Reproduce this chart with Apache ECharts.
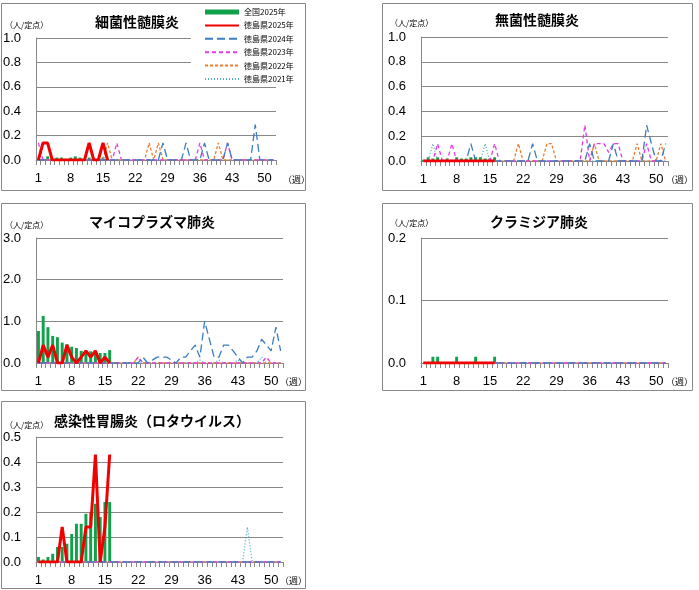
<!DOCTYPE html>
<html>
<head>
<meta charset="utf-8">
<script src="https://cdn.jsdelivr.net/npm/echarts@6/dist/echarts.min.js"></script>
<style>
  html, body { margin: 0; padding: 0; background: #fff; }
  #chart { width: 699px; height: 590px; }
</style>
</head>
<body>
<div id="chart"></div>
<script>
'use strict';

const weeks = [
  '1', '2', '3', '4', '5', '6', '7', '8', '9', '10', '11', '12', '13',
  '14', '15', '16', '17', '18', '19', '20', '21', '22', '23', '24', '25', '26',
  '27', '28', '29', '30', '31', '32', '33', '34', '35', '36', '37', '38', '39',
  '40', '41', '42', '43', '44', '45', '46', '47', '48', '49', '50', '51', '52',
];

const seriesNames = ['全国2025年', '徳島県2025年', '徳島県2024年', '徳島県2023年', '徳島県2022年', '徳島県2021年'];

// weeks with no reports at all
const noCases16 = [0, 0, 0, 0, 0, 0, 0, 0, 0, 0, 0, 0, 0, 0, 0, 0];
const noCases52 = [
  0, 0, 0, 0, 0, 0, 0, 0, 0, 0, 0, 0, 0,
  0, 0, 0, 0, 0, 0, 0, 0, 0, 0, 0, 0, 0,
  0, 0, 0, 0, 0, 0, 0, 0, 0, 0, 0, 0, 0,
  0, 0, 0, 0, 0, 0, 0, 0, 0, 0, 0, 0, 0,
];

// 細菌性髄膜炎
const bactNational2025 = [0.01, 0.01, 0.03, 0.01, 0.02, 0.02, 0.01, 0.02, 0.03, 0.02, 0.01, 0.02, 0.01, 0.01, 0.02, 0.01];
const bactPref2025 = [0, 0.14, 0.14, 0, 0, 0, 0, 0, 0, 0, 0, 0.14, 0, 0, 0.14, 0];
const bactPref2024 = [
  0, 0, 0, 0, 0, 0, 0, 0, 0, 0, 0, 0, 0,
  0, 0, 0, 0, 0, 0, 0, 0, 0, 0, 0, 0, 0,
  0, 0.14, 0, 0, 0, 0, 0.14, 0, 0, 0, 0.14, 0, 0,
  0, 0, 0.14, 0, 0, 0, 0, 0, 0.29, 0, 0, 0, 0,
];
const bactPref2023 = [
  0.14, 0, 0, 0, 0, 0, 0, 0, 0, 0, 0, 0, 0,
  0, 0, 0, 0, 0.14, 0, 0, 0, 0, 0, 0, 0, 0,
  0, 0, 0, 0, 0, 0, 0, 0, 0, 0.14, 0, 0, 0,
  0, 0, 0.14, 0, 0, 0, 0, 0, 0, 0, 0, 0, 0,
];
const bactPref2022 = [
  0, 0, 0, 0, 0, 0, 0, 0, 0, 0, 0, 0, 0,
  0, 0, 0.14, 0, 0, 0, 0, 0, 0, 0, 0, 0.14, 0,
  0.14, 0, 0, 0, 0, 0, 0, 0, 0, 0, 0, 0, 0,
  0.14, 0, 0, 0, 0, 0, 0, 0, 0, 0, 0, 0, 0,
];
const bactPref2021 = noCases52;

// 無菌性髄膜炎
const asepNational2025 = [0.01, 0.03, 0.02, 0.03, 0.01, 0.02, 0.01, 0.03, 0.02, 0.02, 0.03, 0.03, 0.03, 0.02, 0.02, 0.03];
const asepPref2025 = noCases16;
const asepPref2024 = [
  0, 0, 0, 0, 0, 0, 0, 0, 0, 0, 0.14, 0, 0,
  0, 0, 0, 0, 0, 0, 0, 0, 0, 0, 0.14, 0, 0,
  0, 0, 0, 0, 0, 0, 0, 0, 0, 0.14, 0, 0, 0,
  0, 0.14, 0, 0, 0, 0, 0, 0, 0.29, 0.14, 0, 0, 0.14,
];
const asepPref2023 = [
  0, 0, 0, 0.14, 0, 0, 0.14, 0, 0, 0, 0, 0, 0,
  0, 0, 0.14, 0, 0, 0, 0, 0, 0, 0, 0, 0, 0,
  0, 0, 0, 0, 0, 0, 0, 0, 0.29, 0, 0.14, 0.14, 0.14,
  0.07, 0.14, 0.14, 0, 0, 0, 0, 0, 0.14, 0, 0, 0, 0,
];
const asepPref2022 = [
  0, 0, 0, 0, 0, 0, 0, 0, 0, 0, 0, 0, 0,
  0, 0, 0, 0, 0, 0, 0, 0.14, 0, 0, 0, 0, 0,
  0.14, 0.14, 0, 0, 0, 0, 0, 0, 0, 0, 0.14, 0, 0,
  0, 0, 0, 0, 0, 0, 0.14, 0, 0, 0, 0, 0.14, 0,
];
const asepPref2021 = [
  0, 0, 0.14, 0, 0, 0, 0, 0, 0, 0, 0, 0, 0,
  0.14, 0, 0, 0, 0, 0, 0, 0, 0, 0, 0, 0, 0,
  0, 0, 0, 0, 0, 0, 0, 0, 0, 0, 0, 0, 0,
  0, 0, 0, 0, 0, 0, 0, 0, 0, 0, 0, 0, 0,
];

// マイコプラズマ肺炎
const mycoNational2025 = [0.77, 1.13, 0.86, 0.65, 0.62, 0.49, 0.45, 0.39, 0.36, 0.29, 0.29, 0.28, 0.28, 0.24, 0.24, 0.31];
const mycoPref2025 = [0, 0.43, 0.14, 0.43, 0, 0, 0.43, 0.14, 0, 0.14, 0.29, 0.14, 0.29, 0, 0.14, 0];
const mycoPref2024 = [
  0, 0, 0, 0, 0, 0, 0, 0, 0, 0, 0, 0, 0,
  0, 0, 0, 0, 0, 0, 0, 0, 0, 0.14, 0, 0.07, 0.14,
  0.14, 0.14, 0.07, 0, 0.14, 0.14, 0.29, 0.43, 0.14, 1.0, 0.57, 0.14, 0.14,
  0.43, 0.43, 0.29, 0.14, 0, 0.14, 0.14, 0.29, 0.57, 0.43, 0.29, 0.86, 0.29,
];
const mycoPref2023 = [
  0, 0, 0, 0, 0, 0, 0, 0, 0, 0, 0, 0, 0,
  0, 0, 0, 0, 0, 0, 0, 0, 0.14, 0, 0, 0, 0,
  0, 0, 0, 0, 0, 0, 0, 0, 0, 0, 0, 0, 0,
  0, 0, 0, 0, 0, 0, 0, 0, 0, 0.14, 0, 0, 0,
];
const mycoPref2022 = [
  0, 0, 0, 0, 0, 0, 0, 0, 0, 0, 0, 0, 0,
  0, 0, 0, 0, 0, 0, 0, 0, 0.14, 0, 0, 0, 0,
  0, 0, 0, 0, 0, 0, 0, 0, 0, 0, 0, 0, 0,
  0, 0, 0, 0, 0, 0, 0, 0, 0, 0, 0, 0, 0,
];
const mycoPref2021 = [
  0, 0, 0, 0, 0, 0, 0, 0, 0, 0, 0, 0, 0,
  0, 0, 0, 0, 0, 0, 0, 0, 0, 0, 0, 0, 0,
  0, 0, 0, 0, 0, 0, 0, 0, 0.07, 0, 0, 0, 0.07,
  0, 0, 0, 0.07, 0, 0, 0, 0, 0.14, 0, 0, 0, 0,
];

// クラミジア肺炎
const chlaNational2025 = [0, 0, 0.01, 0.01, 0, 0, 0, 0.01, 0, 0, 0, 0.01, 0, 0, 0, 0.01];
const chlaPref2025 = noCases16;
const chlaPref2024 = noCases52;
const chlaPref2023 = noCases52;
const chlaPref2022 = noCases52;
const chlaPref2021 = noCases52;

// 感染性胃腸炎（ロタウイルス）
const rotaNational2025 = [0.02, 0.01, 0.02, 0.033, 0.06, 0.06, 0.073, 0.112, 0.153, 0.153, 0.193, 0.2, 0.233, 0.18, 0.24, 0.24];
const rotaPref2025 = [0, 0, 0, 0, 0, 0.14, 0, 0, 0, 0, 0.14, 0.14, 0.43, 0, 0.14, 0.43];
const rotaPref2024 = noCases52;
const rotaPref2023 = noCases52;
const rotaPref2022 = noCases52;
const rotaPref2021 = [
  0, 0, 0, 0, 0, 0, 0, 0, 0, 0, 0, 0, 0,
  0, 0, 0, 0, 0, 0, 0, 0, 0, 0, 0, 0, 0,
  0, 0, 0, 0, 0, 0, 0, 0, 0, 0, 0, 0, 0,
  0, 0, 0, 0, 0, 0.14, 0, 0, 0, 0, 0, 0, 0,
];

const panels = [
  {
    title: '細菌性髄膜炎', max: 1, interval: 0.2,
    national: bactNational2025, pref: [bactPref2025, bactPref2024, bactPref2023, bactPref2022, bactPref2021],
    grid: { left: 36, top: 38, width: 240, height: 122 },
    box: [1, 3, 304, 187], titlePos: [137, 22], unitPos: [5, 25], weekPos: [283, 180],
  },
  {
    title: '無菌性髄膜炎', max: 1, interval: 0.2,
    national: asepNational2025, pref: [asepPref2025, asepPref2024, asepPref2023, asepPref2022, asepPref2021],
    grid: { left: 421, top: 37, width: 247, height: 124 },
    box: [382, 3, 310, 187], titlePos: [537, 20], unitPos: [390, 23], weekPos: [666, 180],
  },
  {
    title: 'マイコプラズマ肺炎', max: 3, interval: 1,
    national: mycoNational2025, pref: [mycoPref2025, mycoPref2024, mycoPref2023, mycoPref2022, mycoPref2021],
    grid: { left: 36, top: 238, width: 247, height: 125 },
    box: [1, 203, 304, 187], titlePos: [152, 222], unitPos: [5, 225], weekPos: [280, 382],
  },
  {
    title: 'クラミジア肺炎', max: 0.2, interval: 0.1,
    national: chlaNational2025, pref: [chlaPref2025, chlaPref2024, chlaPref2023, chlaPref2022, chlaPref2021],
    grid: { left: 421, top: 238, width: 247, height: 125 },
    box: [382, 203, 310, 187], titlePos: [539, 222], unitPos: [390, 223], weekPos: [666, 382],
  },
  {
    title: '感染性胃腸炎（ロタウイルス）', max: 0.5, interval: 0.1,
    national: rotaNational2025, pref: [rotaPref2025, rotaPref2024, rotaPref2023, rotaPref2022, rotaPref2021],
    grid: { left: 36, top: 437, width: 247, height: 125 },
    box: [1, 401, 304, 187], titlePos: [152, 421], unitPos: [5, 425], weekPos: [280, 581],
  },
];

const lineStyles = [
  { color: '#F00000', width: 3, type: 'solid' },
  { color: '#3A7DC0', width: 1.3, type: [8, 4] },
  { color: '#E838E8', width: 1.3, type: [4, 3] },
  { color: '#ED7D31', width: 1.3, type: [3, 2] },
  { color: '#4BACC6', width: 1.3, type: [1, 2] },
];

const NUM_FONT = 'Liberation Sans, Arial, sans-serif';
const JP_FONT = 'Noto Sans CJK JP, sans-serif';

const grid = [];
const xAxis = [];
const yAxis = [];
const series = [];
const graphic = [];

panels.forEach((p, i) => {
  grid.push(p.grid);
  xAxis.push({
    type: 'category',
    gridIndex: i,
    data: weeks,
    axisLine: { lineStyle: { color: '#888', width: 1 } },
    axisTick: { show: true, interval: 0, length: 5, lineStyle: { color: '#888' } },
    axisLabel: { interval: 6, margin: 12, fontSize: 13, color: '#000', fontFamily: NUM_FONT },
    splitLine: { show: false },
  });
  yAxis.push({
    type: 'value',
    gridIndex: i,
    min: 0,
    max: p.max,
    interval: p.interval,
    axisLine: { show: true, lineStyle: { color: '#888', width: 1 } },
    axisTick: { show: false },
    axisLabel: {
      margin: 15, fontSize: 13, color: '#000', fontFamily: NUM_FONT,
      formatter: (v) => v.toFixed(1),
    },
    splitLine: { lineStyle: { color: '#888', width: 1 } },
  });

  series.push({
    type: 'bar',
    name: seriesNames[0],
    xAxisIndex: i,
    yAxisIndex: i,
    data: p.national,
    barWidth: '62%',
    itemStyle: { color: '#12A14B' },
    z: 2,
  });
  p.pref.forEach((data, j) => {
    series.push({
      type: 'line',
      name: seriesNames[j + 1],
      xAxisIndex: i,
      yAxisIndex: i,
      data,
      symbol: 'none',
      lineStyle: lineStyles[j],
      itemStyle: { color: lineStyles[j].color },
      z: j === 0 ? 6 : 6 - j,
    });
  });

  // panel frame and texts
  graphic.push({
    type: 'rect',
    shape: { x: p.box[0] + 0.5, y: p.box[1] + 0.5, width: p.box[2], height: p.box[3] },
    style: { fill: 'none', stroke: '#888', lineWidth: 1 },
    silent: true,
    z: -1,
  });
  graphic.push({
    type: 'text',
    x: p.titlePos[0],
    y: p.titlePos[1],
    style: {
      text: p.title, fill: '#000', font: 'bold 14px ' + JP_FONT,
      textAlign: 'center', textVerticalAlign: 'middle',
    },
  });
  graphic.push({
    type: 'text',
    x: p.unitPos[0],
    y: p.unitPos[1],
    style: {
      text: '（人/定点）', fill: '#000', font: '8px ' + JP_FONT,
      textAlign: 'left', textVerticalAlign: 'middle',
    },
  });
  graphic.push({
    type: 'text',
    x: p.weekPos[0],
    y: p.weekPos[1],
    style: {
      text: '（週）', fill: '#000', font: '9px ' + JP_FONT,
      textAlign: 'left', textVerticalAlign: 'middle',
    },
  });
});

const myChart = echarts.init(document.getElementById('chart'));

const option = {
  animation: false,
  backgroundColor: '#fff',
  legend: {
    // line items: hide the marker ECharts puts in the middle of the line icon
    data: seriesNames.map((name, i) => (i === 0
      ? { name, icon: 'rect' }
      : { name, itemStyle: { opacity: 0 } })),
    orient: 'vertical',
    left: 191,
    top: 5,
    padding: [2, 4, 0, 13],
    itemWidth: 34,
    itemHeight: 5,
    itemGap: 3.4,
    backgroundColor: '#fff',
    selectedMode: false,
    textStyle: { fontSize: 8, lineHeight: 10, color: '#000', fontFamily: JP_FONT },
  },
  grid,
  xAxis,
  yAxis,
  series,
  graphic,
};

myChart.setOption(option);
</script>
</body>
</html>
